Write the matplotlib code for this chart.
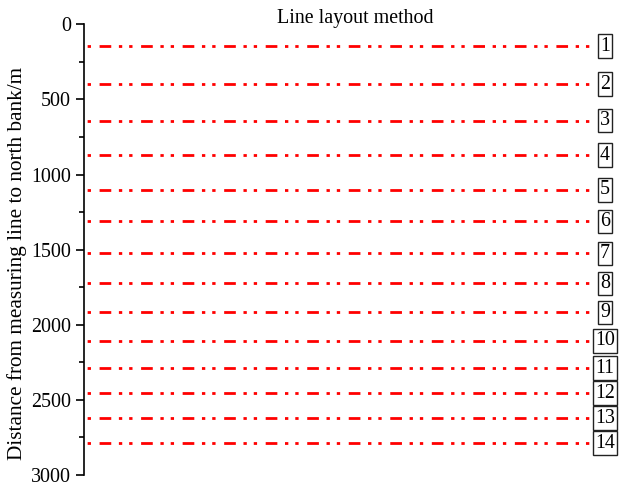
import matplotlib
matplotlib.use('Agg')
import matplotlib.pyplot as plt
import numpy as np

plt.rcParams['font.family'] = ['Liberation Serif', 'DejaVu Serif']
plt.rcParams['font.size'] = 14.4

# measuring line positions (distance to north bank, m)
line_ids = ['1', '2', '3', '4', '5', '6', '7', '8', '9', '10', '11', '12', '13', '14']
line_dist = [145, 398, 640, 872, 1100, 1312, 1525, 1725, 1918, 2106, 2288, 2456, 2622, 2788]
x_span = [0.006, 0.958]
label_x = 0.976

fig = plt.figure(figsize=(6.2, 4.83), dpi=100)
ax = fig.add_axes([0.1355, 1 - 475.0 / 483, 0.861, 450.6 / 483])

# dash-dot-dot, in units of linewidth
pattern = (4.2, 2.75, 1.2, 2.5, 1.2, 3.1)
for lid, d in zip(line_ids, line_dist):
    ax.plot(x_span, [d, d], color='#ff0000', lw=2.0,
            linestyle=(10.6, pattern), solid_capstyle='butt')
    ax.text(label_x, d, lid, ha='center', va='center', fontsize=14.4,
            bbox=dict(boxstyle='square,pad=0.12', fc='white', ec='#222222', lw=1.0),
            clip_on=False)

ax.set_xlim(0, 1)
ax.set_ylim(3000, 0)
ax.set_yticks(np.arange(0, 3001, 500))
ax.set_yticks(np.arange(250, 3000, 500), minor=True)
ax.tick_params(axis='y', which='major', length=6, width=1.2, direction='out')
ax.tick_params(axis='y', which='minor', length=3.5, width=1.2, direction='out')
ax.xaxis.set_visible(False)
for s in ['top', 'right', 'bottom']:
    ax.spines[s].set_visible(False)
ax.spines['left'].set_linewidth(1.2)

fig.text(0.5725, 1 - 19 / 483, 'Line layout method', ha='center', va='center', fontsize=14.4)
fig.text(17 / 620, 1 - 263 / 483, 'Distance from measuring line to north bank/m',
         ha='center', va='center', rotation=90, fontsize=15.3)

fig.savefig('out.png', dpi=100)
